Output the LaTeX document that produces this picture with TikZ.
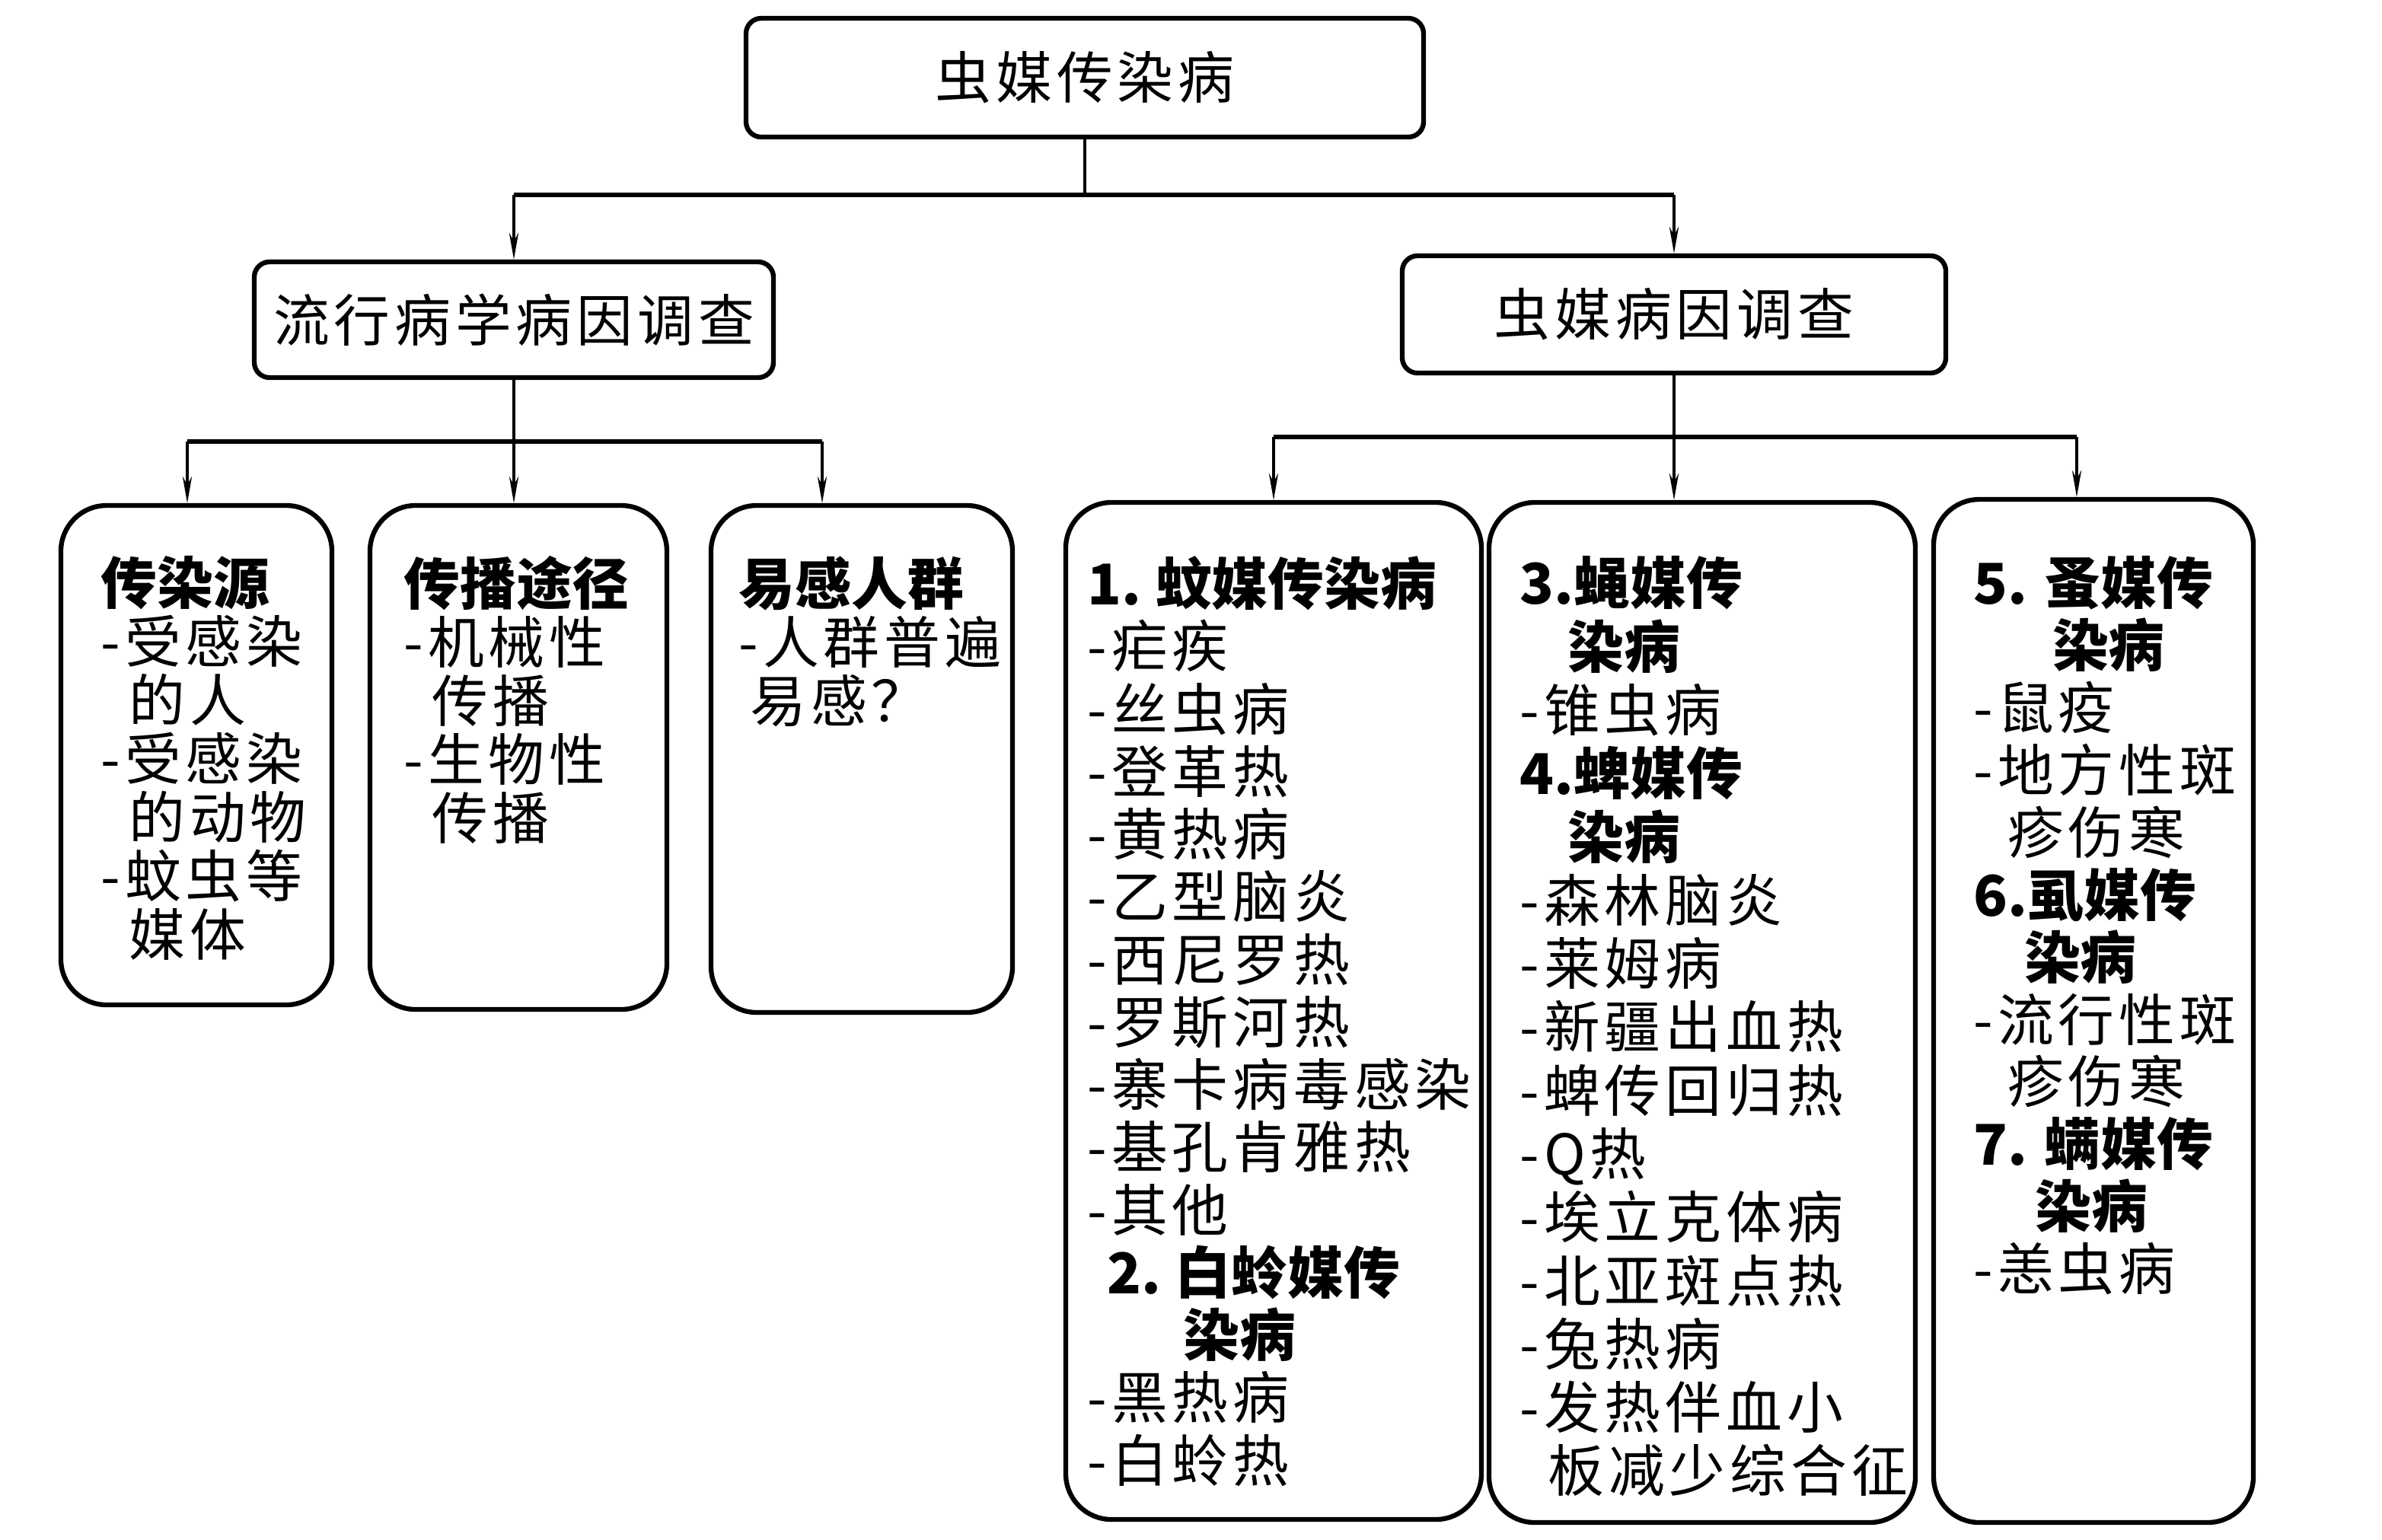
\documentclass[tikz,border=0pt]{standalone}
\usepackage{fontspec}
\usetikzlibrary{arrows.meta}
\newfontfamily\cjk[LetterSpace=8]{Noto Sans CJK SC}
\newfontfamily\cjkh{Noto Sans CJK SC}
\newcommand\hd[1]{{\cjkh\bfseries #1}}
\begin{document}
\begin{tikzpicture}[
  box/.style={draw,line width=1.8pt,rounded corners=2mm,inner sep=0pt,font=\cjk\fontsize{21}{24}\selectfont},
  card/.style={draw,line width=1.8pt,rounded corners=6mm,inner sep=0pt},
  txt/.style={anchor=north west,inner sep=0pt,align=left,font=\cjk\fontsize{21}{23.4}\selectfont},
  arr/.style={-{Stealth[length=10pt,width=3.5pt]},line width=0.9pt},
  bus/.style={line width=1.6pt}
]
\useasboundingbox (0,0) rectangle (31.29,-20.22);
% top levels
\node[box,minimum width=8.9cm,minimum height=1.56cm] (root) at (14.25,-1.02) {虫媒传染病};
\node[box,minimum width=6.82cm,minimum height=1.52cm] (epi) at (6.75,-4.20) {流行病学病因调查};
\node[box,minimum width=7.14cm,minimum height=1.54cm] (vec) at (21.99,-4.13) {虫媒病因调查};
% bottom cards
\node[card,minimum width=3.56cm,minimum height=6.56cm] (src) at (2.58,-9.92) {};
\node[card,minimum width=3.90cm,minimum height=6.62cm] (route) at (6.81,-9.95) {};
\node[card,minimum width=3.96cm,minimum height=6.66cm] (host) at (11.32,-9.97) {};
\node[card,minimum width=5.46cm,minimum height=13.36cm] (mos) at (16.73,-13.28) {};
\node[card,minimum width=5.60cm,minimum height=13.40cm] (fly) at (22.36,-13.30) {};
\node[card,minimum width=4.20cm,minimum height=13.44cm] (flea) at (27.50,-13.28) {};
% card texts
\node[txt,font=\cjk\fontsize{21}{21.9}\selectfont] (srcT) at (1.32,-7.30) {\hd{传染源}\\-受感染\\\hspace*{.5em}的人\\-受感染\\\hspace*{.5em}的动物\\-蚊虫等\\\hspace*{.5em}媒体};
\node[txt,font=\cjk\fontsize{21}{21.9}\selectfont] (routeT) at (5.30,-7.30) {\hd{传播途径}\\-机械性\\\hspace*{.5em}传播\\-生物性\\\hspace*{.5em}传播};
\node[txt,font=\cjk\fontsize{21}{21.9}\selectfont] (hostT) at (9.70,-7.30) {\hd{易感人群}\\-人群普遍\\\hspace*{.2em}易感？};
\node[txt] (mosT) at (14.28,-7.30) {\hd{1.\hspace{.25em}蚊媒传染病}\\-疟疾\\-丝虫病\\-登革热\\-黄热病\\-乙型脑炎\\-西尼罗热\\-罗斯河热\\-寨卡病毒感染\\-基孔肯雅热\\-其他\\\hspace*{.35em}\hd{2.\hspace{.25em}白蛉媒传}\\\hspace*{1.7em}\hd{染病}\\-黑热病\\-白蛉热};
\node[txt,font=\cjk\fontsize{21}{23.7}\selectfont] (flyT) at (19.96,-7.30) {\hd{3.蝇媒传}\\\hspace*{.85em}\hd{染病}\\-锥虫病\\\hd{4.蜱媒传}\\\hspace*{.85em}\hd{染病}\\-森林脑炎\\-莱姆病\\-新疆出血热\\-蜱传回归热\\-Q热\\-埃立克体病\\-北亚斑点热\\-兔热病\\-发热伴血小\\\hspace*{.5em}板减少综合征};
\node[txt,font=\cjk\fontsize{21}{23.3}\selectfont] (fleaT) at (25.92,-7.30) {\hd{5.\hspace{.3em}蚤媒传}\\\hspace*{1.4em}\hd{染病}\\-鼠疫\\-地方性斑\\\hspace*{.6em}疹伤寒\\\hd{6.虱媒传}\\\hspace*{.9em}\hd{染病}\\-流行性斑\\\hspace*{.6em}疹伤寒\\\hd{7.\hspace{.3em}螨媒传}\\\hspace*{1.1em}\hd{染病}\\-恙虫病};
% connectors
\coordinate (t1) at (0,-2.56);
\coordinate (t2) at (0,-5.80);
\coordinate (t3) at (0,-5.74);
\coordinate (srcN) at ([xshift=-0.12cm]src.north);
\coordinate (hostN) at ([xshift=-0.52cm]host.north);
\coordinate (fleaN) at ([xshift=-0.22cm]flea.north);
\draw[line width=0.9pt] (root.south) -- (root.south |- t1);
\draw[bus] (epi.north |- t1) -- (vec.north |- t1);
\draw[arr] (epi.north |- t1) -- (epi.north);
\draw[arr] (vec.north |- t1) -- (vec.north);
\draw[line width=0.9pt] (epi.south) -- (epi.south |- t2);
\draw[bus] (srcN |- t2) -- (hostN |- t2);
\draw[arr] (srcN |- t2) -- (srcN);
\draw[arr] (epi.south |- t2) -- (epi.south |- route.north);
\draw[arr] (hostN |- t2) -- (hostN);
\draw[line width=0.9pt] (vec.south) -- (vec.south |- t3);
\draw[bus] (mos.north |- t3) -- (fleaN |- t3);
\draw[arr] (mos.north |- t3) -- (mos.north);
\draw[arr] (vec.south |- t3) -- (vec.south |- fly.north);
\draw[arr] (fleaN |- t3) -- (fleaN);
\end{tikzpicture}
\end{document}
